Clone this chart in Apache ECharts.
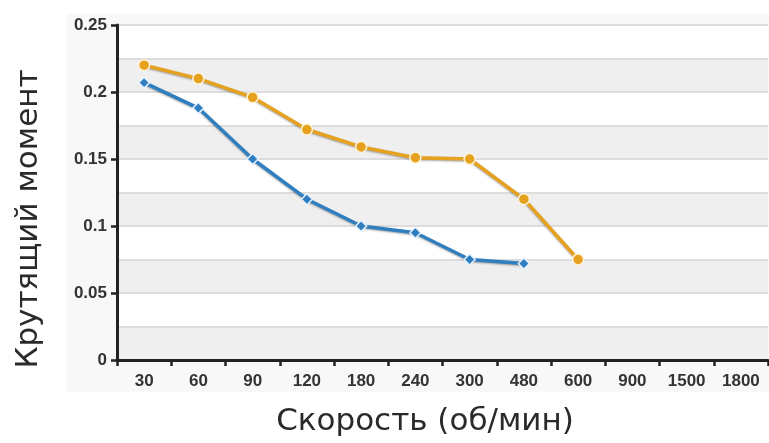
<!DOCTYPE html>
<html><head><meta charset="utf-8">
<script src="https://cdn.jsdelivr.net/npm/echarts@6/dist/echarts.min.js"></script>
<style>html,body{margin:0;padding:0;background:#fff}#c{width:769px;height:443px}</style>
</head><body><div id="c"></div>
<script>
const categories = ['30','60','90','120','180','240','300','480','600','900','1500','1800'];
const seriesOrange = [0.22, 0.21, 0.196, 0.172, 0.159, 0.151, 0.15, 0.12, 0.075, null, null, null];
const seriesBlue = [0.207, 0.188, 0.15, 0.12, 0.1, 0.095, 0.075, 0.072, null, null, null, null];
const yTitle = 'Крутящий момент';
const xTitle = 'Скорость (об/мин)';

const chart = echarts.init(document.getElementById('c'));
const lblFont = {fontFamily: 'Liberation Sans, Arial, sans-serif', fontWeight: 'bold', fontSize: 17, color: '#333'};
const titleFont = 'DejaVu Sans, Noto Sans, sans-serif';
chart.setOption({
  animation: false,
  graphic: [
    {type: 'rect', shape: {x: 67, y: 14, width: 702, height: 378}, style: {fill: '#f8f8f8'}, z: -10},
    {type: 'text', x: 29, y: 219, rotation: Math.PI/2, z: 10,
     style: {text: yTitle, fontFamily: titleFont, fontSize: 31, fill: '#2a2a2a', align: 'center', verticalAlign: 'middle'}},
    {type: 'text', x: 425, y: 422, z: 10,
     style: {text: xTitle, fontFamily: titleFont, fontSize: 31, fill: '#2a2a2a', align: 'center', verticalAlign: 'middle'}}
  ],
  grid: {left: 117, top: 25, right: 1, bottom: 83},
  xAxis: {
    type: 'category', data: categories, boundaryGap: true,
    axisLine: {lineStyle: {color: '#222', width: 3}},
    axisTick: {show: true, length: 6, lineStyle: {color: '#222', width: 2.5}},
    axisLabel: Object.assign({margin: 13}, lblFont)
  },
  yAxis: [
    {
      type: 'value', min: 0, max: 0.25, interval: 0.05,
      axisLine: {show: true, lineStyle: {color: '#222', width: 3}},
      axisTick: {show: true, length: 6, lineStyle: {color: '#222', width: 2.5}},
      axisLabel: Object.assign({margin: 10, formatter: v => String(+v.toFixed(2))}, lblFont),
      splitLine: {show: false}
    },
    {
      type: 'value', min: 0, max: 0.25, interval: 0.025,
      axisLine: {show: false}, axisTick: {show: false}, axisLabel: {show: false},
      splitLine: {show: true, lineStyle: {color: '#dcdcdc', width: 2}},
      splitArea: {show: true, areaStyle: {color: ['#efefef', '#ffffff']}}
    }
  ],
  series: [
    {
      type: 'line', data: seriesOrange, yAxisIndex: 0, z: 3,
      symbol: 'circle', symbolSize: 11,
      lineStyle: {color: '#e6a11f', width: 3.5, shadowColor: 'rgba(0,0,0,0.35)', shadowBlur: 2, shadowOffsetY: 1},
      itemStyle: {color: '#e6a11f', borderColor: '#fff4dc', borderWidth: 1.5}
    },
    {
      type: 'line', data: seriesBlue, yAxisIndex: 0, z: 3,
      symbol: 'diamond', symbolSize: 11,
      lineStyle: {color: '#2f7fc0', width: 3.5, shadowColor: 'rgba(0,0,0,0.35)', shadowBlur: 2, shadowOffsetY: 1},
      itemStyle: {color: '#2f7fc0', borderColor: '#e6f2ff', borderWidth: 1.5}
    }
  ]
});
</script></body></html>
